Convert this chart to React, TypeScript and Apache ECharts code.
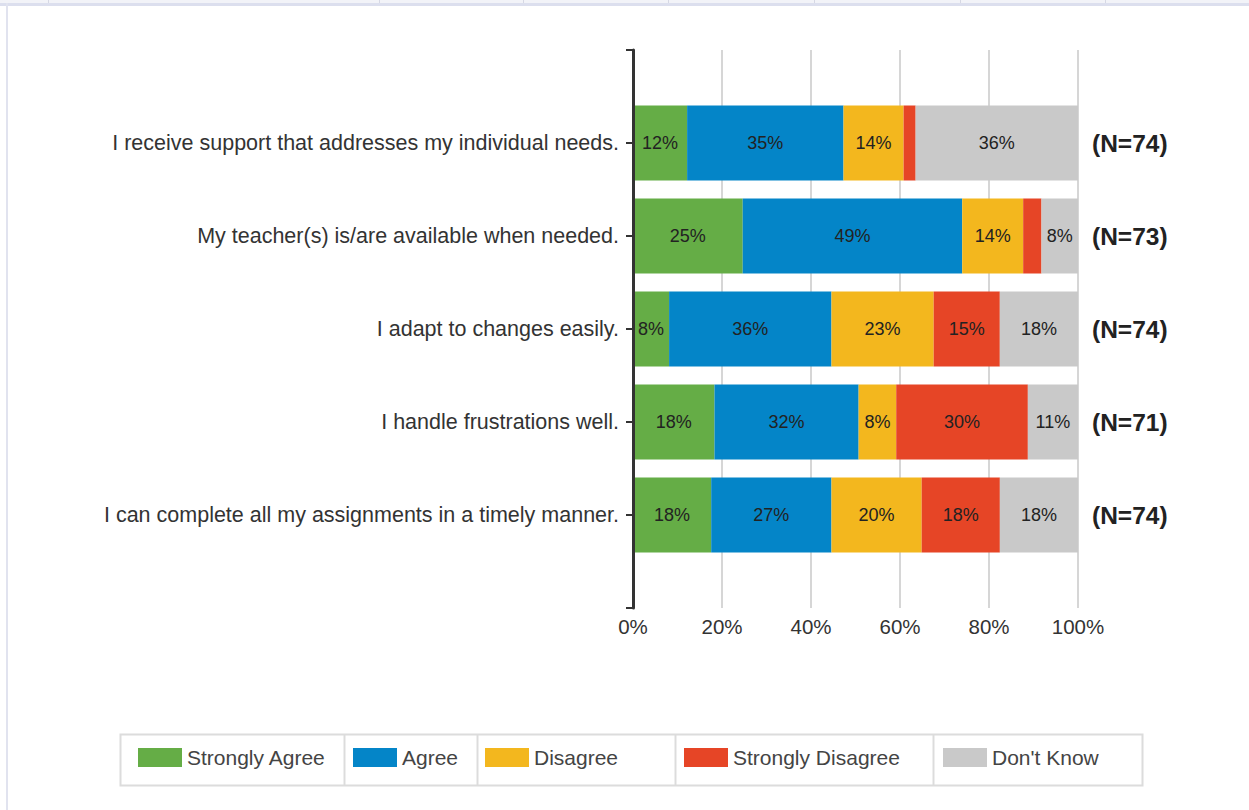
import React, { useEffect, useRef } from "react";
import * as echarts from "echarts";

const categories = [
  "I receive support that addresses my individual needs.",
  "My teacher(s) is/are available when needed.",
  "I adapt to changes easily.",
  "I handle frustrations well.",
  "I can complete all my assignments in a timely manner.",
];
const nLabels = ["(N=74)", "(N=73)", "(N=74)", "(N=71)", "(N=74)"];
const seriesNames = ["Strongly Agree", "Agree", "Disagree", "Strongly Disagree", "Don't Know"];
const stronglyAgree = [12.16, 24.66, 8.11, 18.31, 17.57];
const agree = [35.14, 49.32, 36.49, 32.39, 27.03];
const disagree = [13.51, 13.7, 22.97, 8.45, 20.27];
const stronglyDisagree = [2.7, 4.11, 14.86, 29.58, 17.57];
const dontKnow = [36.49, 8.22, 17.57, 11.27, 17.57];
const xTicks = [0, 20, 40, 60, 80, 100];

const colors = ["#65AD46", "#0485C8", "#F3B71E", "#E64526", "#C9C9C9"];
const SANS = "'Liberation Sans', Arial, sans-serif";

export default function App() {
  const ref = useRef<HTMLDivElement>(null);
  useEffect(() => {
    if (!ref.current) return;
    const chart = echarts.init(ref.current, undefined, { renderer: "svg" });
    const pad = (arr: any[], blank: any) => [blank, ...arr, blank];
    const allValues = [stronglyAgree, agree, disagree, stronglyDisagree, dontKnow];

    const legendLefts = [138, 353, 485, 684, 943];
    const legendBoxes = [120, 344, 477, 675, 933, 1142];

    const graphic: any[] = [
      { type: "rect", shape: { x: 0, y: 0, width: 1249, height: 3 }, style: { fill: "#f2f3f8" }, silent: true },
      { type: "line", shape: { x1: 0, y1: 4.5, x2: 1249, y2: 4.5 }, style: { stroke: "#dcdfee", lineWidth: 3 }, silent: true },
      { type: "line", shape: { x1: 7, y1: 3, x2: 7, y2: 810 }, style: { stroke: "#e1e3ef", lineWidth: 2 }, silent: true },
      ...[48, 379, 523, 668, 814, 960, 1105].map((x) => ({
        type: "line",
        shape: { x1: x + 0.5, y1: 0, x2: x + 0.5, y2: 3 },
        style: { stroke: "#d6d8e4", lineWidth: 1 },
        silent: true,
      })),
      {
        type: "rect",
        shape: { x: legendBoxes[0] + 0.5, y: 734.5, width: legendBoxes[5] - legendBoxes[0], height: 51 },
        style: { fill: "#ffffff", stroke: "#dcdcdc", lineWidth: 2 },
        silent: true,
        z: -1,
      },
      ...legendBoxes.slice(1, 5).map((x) => ({
        type: "line",
        shape: { x1: x + 0.5, y1: 734.5, x2: x + 0.5, y2: 785.5 },
        style: { stroke: "#dcdcdc", lineWidth: 2 },
        silent: true,
      })),
    ];

    const option: any = {
      animation: false,
      backgroundColor: "#ffffff",
      color: colors,
      graphic,
      legend: seriesNames.map((name, i) => ({
        data: [name],
        left: legendLefts[i],
        top: 747,
        padding: 0,
        itemWidth: 44,
        itemHeight: 19,
        itemStyle: { borderWidth: 0 },
        selectedMode: false,
        icon: "rect",
        textStyle: { fontFamily: SANS, fontSize: 21, color: "#444" },
      })),
      grid: { left: 633, top: 50, width: 445, height: 558, containLabel: false },
      xAxis: {
        type: "value",
        min: xTicks[0],
        max: xTicks[xTicks.length - 1],
        interval: 20,
        axisLine: { show: false },
        axisTick: { show: false },
        splitLine: { show: true, lineStyle: { color: "#d6d6d6", width: 2 } },
        axisLabel: {
          formatter: "{value}%",
          fontFamily: SANS,
          fontSize: 20.5,
          color: "#333",
          margin: 8,
        },
      },
      yAxis: [
        {
          type: "category",
          data: pad(categories, ""),
          boundaryGap: false,
          inverse: true,
          axisLine: { show: true, lineStyle: { color: "#333", width: 3 } },
          axisTick: { show: true, length: 7, lineStyle: { color: "#333", width: 2 } },
          splitLine: { show: false },
          axisLabel: {
            fontFamily: SANS,
            fontSize: 21.5,
            color: "#333",
            margin: 14,
            interval: 0,
          },
          z: 5,
        },
        {
          type: "category",
          data: pad(nLabels, ""),
          boundaryGap: false,
          inverse: true,
          position: "right",
          axisLine: { show: false },
          axisTick: { show: false },
          splitLine: { show: false },
          axisLabel: {
            fontFamily: SANS,
            fontSize: 24.5,
            fontWeight: "bold",
            color: "#222",
            margin: 14,
            interval: 0,
          },
        },
      ],
      series: seriesNames.map((name, i) => ({
        name,
        type: "bar",
        stack: "total",
        yAxisIndex: 0,
        barWidth: 75,
        data: pad(allValues[i], "-"),
        itemStyle: { color: colors[i] },
        label: {
          show: true,
          position: "inside",
          fontFamily: SANS,
          fontSize: 18,
          color: "#222",
          formatter: (p: any) => (typeof p.value === "number" && p.value >= 5 ? Math.round(p.value) + "%" : ""),
        },
      })),
    };
    chart.setOption(option);
    return () => chart.dispose();
  }, []);
  return (
    <div
      ref={ref}
      style={{ position: "absolute", left: 0, top: 0, width: 1249, height: 810 }}
    />
  );
}
